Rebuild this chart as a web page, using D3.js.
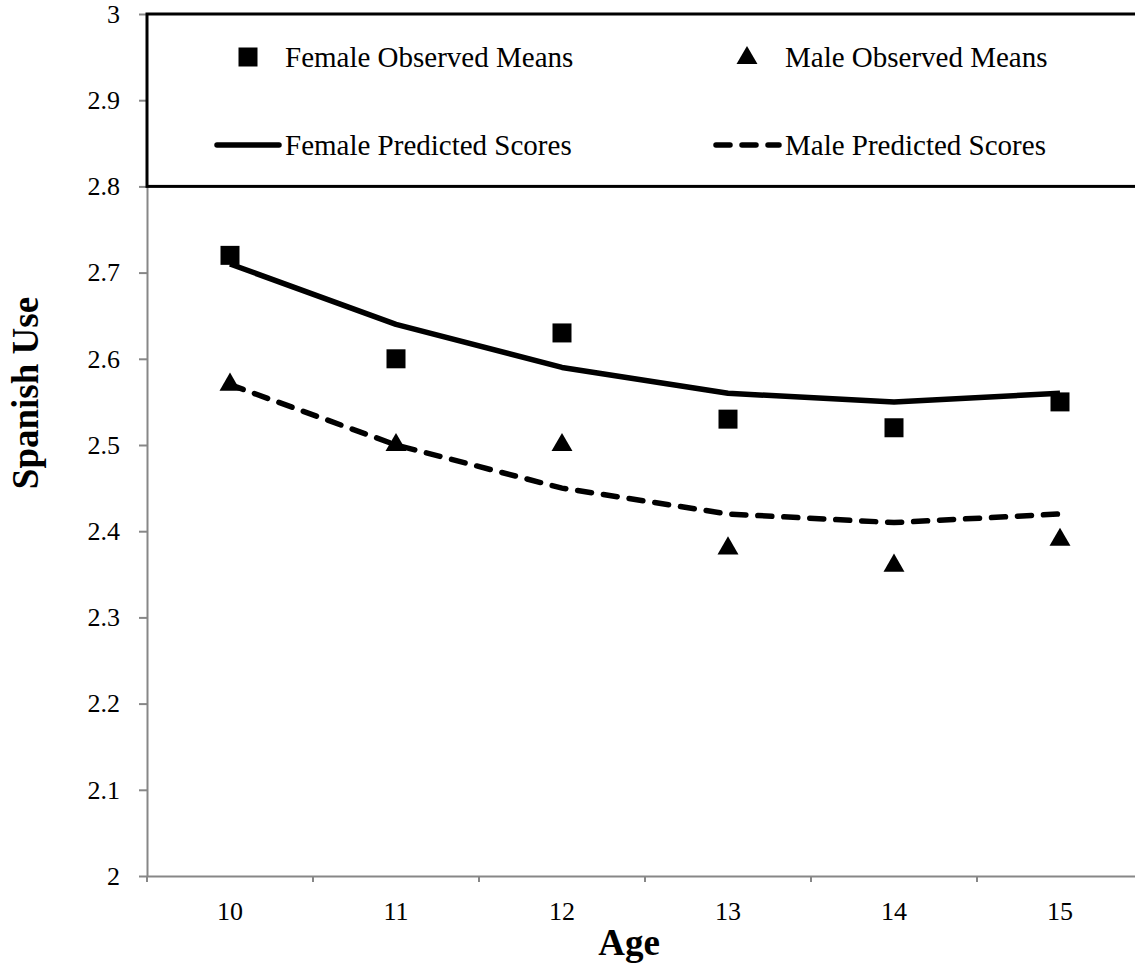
<!DOCTYPE html>
<html>
<head>
<meta charset="utf-8">
<script src="https://cdn.jsdelivr.net/npm/d3@7/dist/d3.min.js"></script>
<style>
  html, body { margin: 0; padding: 0; background: #fff; }
  svg { display: block; }
  text { font-family: "Liberation Serif", "Times New Roman", serif; fill: #000; }
</style>
</head>
<body>
<svg id="chart" width="1135" height="972"></svg>
<script>
// Ages on the horizontal axis
const ages = [10, 11, 12, 13, 14, 15];

// Observed means and model-predicted scores of Spanish use
const femaleObserved = [2.72, 2.60, 2.63, 2.53, 2.52, 2.55];
const maleObserved   = [2.57, 2.50, 2.50, 2.38, 2.36, 2.39];
const femalePredicted = [2.71, 2.64, 2.59, 2.56, 2.55, 2.56];
const malePredicted   = [2.57, 2.50, 2.45, 2.42, 2.41, 2.42];

// Vertical axis ticks
const yTickValues = [2, 2.1, 2.2, 2.3, 2.4, 2.5, 2.6, 2.7, 2.8, 2.9, 3];
const yTickLabels = ["2", "2.1", "2.2", "2.3", "2.4", "2.5", "2.6", "2.7", "2.8", "2.9", "3"];

// Legend entries
const legendLabels = ["Female Observed Means", "Male Observed Means",
                      "Female Predicted Scores", "Male Predicted Scores"];

const svg = d3.select("#chart");

const plotLeft = 147, plotRight = 1143, plotTop = 14, plotBottom = 876;
const axisGrey = "#878787";
const serif = '"Liberation Serif", "Times New Roman", serif';

const x = d3.scaleBand().domain(ages).range([plotLeft, plotRight]);
const cx = a => x(a) + x.bandwidth() / 2;
const y = d3.scaleLinear().domain([2, 3]).range([plotBottom, plotTop]);

// Y axis
const yAxis = svg.append("g")
  .attr("transform", `translate(${plotLeft},0)`)
  .call(d3.axisLeft(y)
    .tickValues(yTickValues)
    .tickFormat((d, i) => yTickLabels[i])
    .tickSize(8)
    .tickPadding(19)
    .tickSizeOuter(0));
yAxis.select(".domain").attr("stroke", axisGrey).attr("stroke-width", 2);
yAxis.selectAll(".tick line").attr("stroke", axisGrey).attr("stroke-width", 2);
yAxis.selectAll(".tick text")
  .style("font-family", serif)
  .style("font-size", "26px").attr("fill", "#000");

// X axis with ticks at the category boundaries
const xAxis = svg.append("g")
  .attr("transform", `translate(0,${plotBottom})`)
  .call(d3.axisBottom(x).tickSize(0).tickPadding(26).tickSizeOuter(0));
xAxis.select(".domain").attr("stroke", axisGrey).attr("stroke-width", 2);
xAxis.selectAll(".tick line").remove();
xAxis.selectAll(".tick text")
  .style("font-family", serif)
  .style("font-size", "26px").attr("fill", "#000");
const boundaries = ages.map(a => x(a)).concat([x(ages[ages.length - 1]) + x.bandwidth()]);
xAxis.selectAll("line.boundary")
  .data(boundaries)
  .join("line")
  .attr("class", "boundary")
  .attr("x1", d => d).attr("x2", d => d)
  .attr("y1", 0).attr("y2", 6)
  .attr("stroke", axisGrey).attr("stroke-width", 2);

// Axis titles
svg.append("text")
  .attr("transform", "translate(38,393) rotate(-90)")
  .attr("text-anchor", "middle")
  .style("font-weight", "bold").style("font-size", "37px")
  .text("Spanish Use");

svg.append("text")
  .attr("x", 629).attr("y", 955)
  .attr("text-anchor", "middle")
  .style("font-weight", "bold").style("font-size", "37px")
  .text("Age");

// Legend panel across the top band of the plot
const legend = svg.append("g");
legend.append("rect")
  .attr("x", plotLeft).attr("y", y(3))
  .attr("width", 1160 - plotLeft).attr("height", y(2.8) - y(3))
  .attr("fill", "#fff").attr("stroke", "#000").attr("stroke-width", 3);

const squareSym = d3.symbol().type(d3.symbolSquare).size(361);
const triSym = d3.symbol().type(d3.symbolTriangle).size(190);

const rowY = [57, 145];
const colX = [248, 747];
const textX = [285, 785];

legend.append("path").attr("d", squareSym())
  .attr("transform", `translate(${colX[0]},${rowY[0]})`).attr("fill", "#000");
legend.append("path").attr("d", triSym())
  .attr("transform", `translate(${colX[1]},${rowY[0] + 1})`).attr("fill", "#000");
legend.append("line")
  .attr("x1", 217).attr("x2", 279).attr("y1", rowY[1]).attr("y2", rowY[1])
  .attr("stroke", "#000").attr("stroke-width", 5.5).attr("stroke-linecap", "round");
legend.append("line")
  .attr("x1", 716).attr("x2", 779).attr("y1", rowY[1]).attr("y2", rowY[1])
  .attr("stroke", "#000").attr("stroke-width", 5.5).attr("stroke-linecap", "round")
  .attr("stroke-dasharray", "14 12");

const legendPos = [[textX[0], 67], [textX[1], 67], [textX[0], 155], [textX[1], 155]];
legend.selectAll("text.leg")
  .data(legendLabels)
  .join("text")
  .attr("class", "leg")
  .attr("x", (d, i) => legendPos[i][0])
  .attr("y", (d, i) => legendPos[i][1])
  .style("font-size", "29px")
  .text(d => d);

// Predicted score lines
const line = d3.line().x((d, i) => cx(ages[i])).y(d => y(d));

svg.append("path")
  .datum(femalePredicted)
  .attr("d", line)
  .attr("fill", "none").attr("stroke", "#000")
  .attr("stroke-width", 5.5).attr("stroke-linejoin", "round");

svg.append("path")
  .datum(malePredicted)
  .attr("d", line)
  .attr("fill", "none").attr("stroke", "#000")
  .attr("stroke-width", 5.5).attr("stroke-linecap", "round")
  .attr("stroke-dasharray", "14 12");

// Observed means
svg.append("g").selectAll("path")
  .data(femaleObserved)
  .join("path")
  .attr("d", squareSym())
  .attr("transform", (d, i) => `translate(${cx(ages[i])},${y(d)})`)
  .attr("fill", "#000");

svg.append("g").selectAll("path")
  .data(maleObserved)
  .join("path")
  .attr("d", triSym())
  .attr("transform", (d, i) => `translate(${cx(ages[i])},${y(d)})`)
  .attr("fill", "#000");
</script>
</body>
</html>
